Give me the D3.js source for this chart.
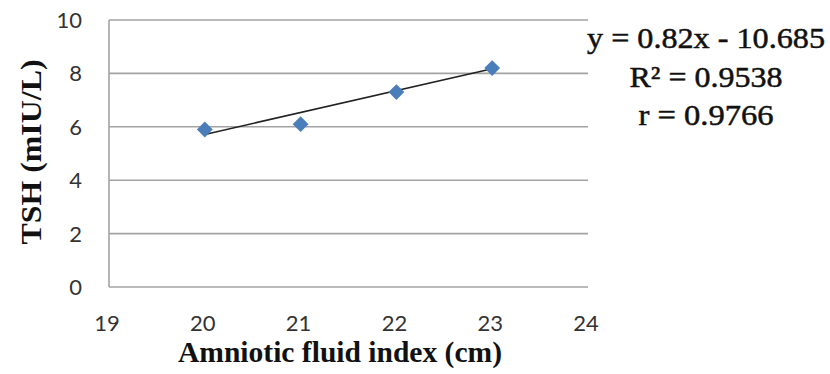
<!DOCTYPE html>
<html>
<head>
<meta charset="utf-8">
<script src="https://d3js.org/d3.v7.min.js"></script>
<style>
  body { margin: 0; background: #fff; }
  svg { display: block; }
</style>
</head>
<body>
<svg id="chart" width="830" height="374"></svg>
<script>
  // values
  var afi = [20, 21, 22, 23];
  var tsh = [5.9, 6.1, 7.3, 8.2];
  var xTicks = [19, 20, 21, 22, 23, 24];
  var yTicks = [0, 2, 4, 6, 8, 10];
  var trend = [0.82, -10.685]; // slope, intercept
  var statLines = ["y = 0.82x - 10.685", "R\u00b2 = 0.9538", "r = 0.9766"];
  var statWidths = [238, 153, 135];

  var svg = d3.select("#chart");
  var plotL = 109, plotR = 588, plotT = 20, plotB = 287;
  var serif = "'Times New Roman', 'Liberation Serif', serif";

  var x = d3.scaleLinear().domain([19, 24]).range([plotL, plotR]);
  var y = d3.scaleLinear().domain([0, 10]).range([plotB, plotT]);

  // horizontal gridlines
  svg.append("g").selectAll("line")
    .data(yTicks)
    .join("line")
    .attr("x1", plotL).attr("x2", plotR)
    .attr("y1", d => y(d)).attr("y2", d => y(d))
    .attr("stroke", "#a3a3a3")
    .attr("stroke-width", 1.6);

  // left axis line
  svg.append("line")
    .attr("x1", plotL).attr("x2", plotL)
    .attr("y1", plotT).attr("y2", plotB)
    .attr("stroke", "#a3a3a3")
    .attr("stroke-width", 1.6);

  // tick labels
  svg.append("g").selectAll("text")
    .data(yTicks)
    .join("text")
    .attr("x", 82)
    .attr("y", d => y(d) + 8)
    .attr("text-anchor", "end")
    .attr("font-family", "Lato, 'Open Sans', sans-serif")
    .attr("font-size", 22)
    .attr("fill", "#333")
    .text(d => d);

  svg.append("g").selectAll("text")
    .data(xTicks)
    .join("text")
    .attr("x", d => x(d) - 2)
    .attr("y", 331)
    .attr("text-anchor", "middle")
    .attr("font-family", "Lato, 'Open Sans', sans-serif")
    .attr("font-size", 22)
    .attr("fill", "#333")
    .text(d => d);

  // trend line
  var fx = [d3.min(afi), d3.max(afi)];
  svg.append("line")
    .attr("x1", x(fx[0])).attr("y1", y(trend[0] * fx[0] + trend[1]))
    .attr("x2", x(fx[1])).attr("y2", y(trend[0] * fx[1] + trend[1]))
    .attr("stroke", "#222")
    .attr("stroke-width", 1.6);

  // markers (rotated squares, like Excel diamonds)
  var diamond = d3.symbol().type(d3.symbolSquare).size(125);
  svg.append("g").selectAll("path")
    .data(afi)
    .join("path")
    .attr("d", diamond)
    .attr("transform", (d, i) => "translate(" + x(d) + "," + y(tsh[i]) + ") rotate(45)")
    .attr("fill", "#4a7ebb");

  // axis titles
  svg.append("text")
    .attr("x", 340)
    .attr("y", 362)
    .attr("text-anchor", "middle")
    .attr("font-family", serif)
    .attr("font-weight", "bold")
    .attr("font-size", 29)
    .attr("textLength", 324)
    .attr("lengthAdjust", "spacingAndGlyphs")
    .attr("fill", "#111")
    .text("Amniotic fluid index (cm)");

  svg.append("text")
    .attr("transform", "translate(41,152) rotate(-90)")
    .attr("text-anchor", "middle")
    .attr("font-family", serif)
    .attr("font-weight", "bold")
    .attr("font-size", 29)
    .attr("textLength", 185)
    .attr("lengthAdjust", "spacingAndGlyphs")
    .attr("fill", "#111")
    .text("TSH (mIU/L)");

  // regression statistics
  svg.append("g").selectAll("text")
    .data(statLines)
    .join("text")
    .attr("x", 706)
    .attr("y", (d, i) => 48 + i * 38.5)
    .attr("text-anchor", "middle")
    .attr("font-family", serif)
    .attr("font-size", 30)
    .attr("stroke", "#111")
    .attr("stroke-width", 0.5)
    .attr("textLength", (d, i) => statWidths[i])
    .attr("lengthAdjust", "spacingAndGlyphs")
    .attr("fill", "#111")
    .text(d => d);
</script>
</body>
</html>
